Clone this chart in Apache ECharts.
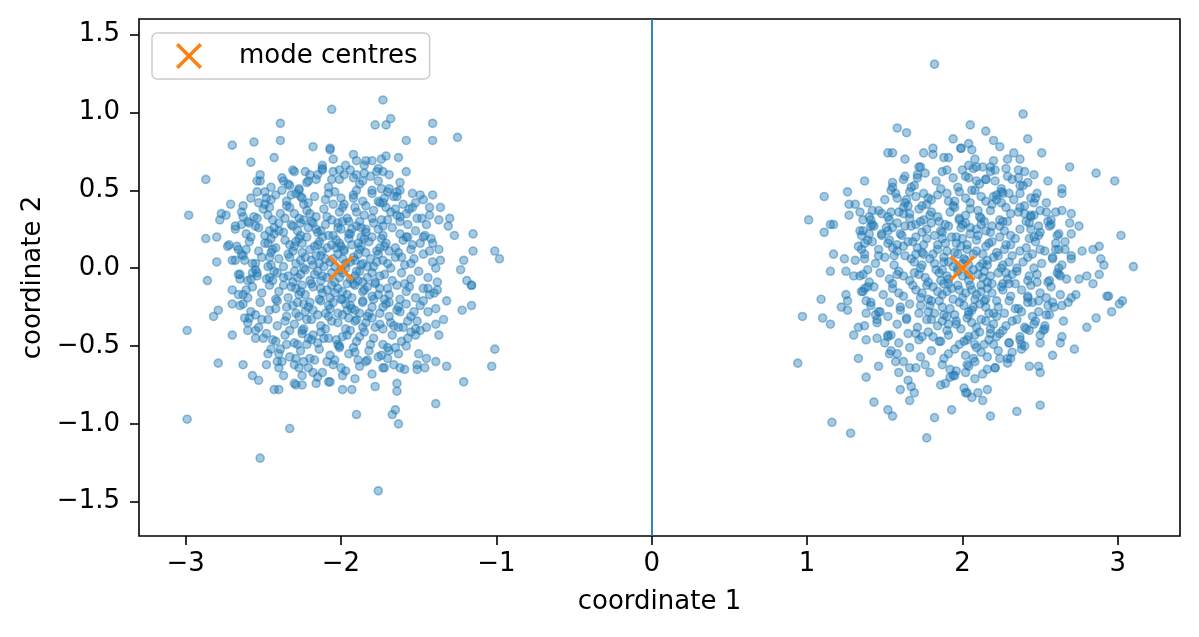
<!DOCTYPE html>
<html>
<head>
<meta charset="utf-8">
<title>mode centres</title>
<script src="https://cdn.jsdelivr.net/npm/echarts@6/dist/echarts.min.js"></script>
<style>
  html, body { margin: 0; padding: 0; background: #fff; }
  #chart { width: 1199px; height: 637px; }
</style>
</head>
<body>
<div id="chart"></div>
<script>
// samples around the left mode (outer points) and estimated (dense core)
const leftPoints = [
  [-2.06,1.02],[-2.39,0.93],[-2.39,0.82],[-2.70,0.79],[-2.56,0.81],[-2.58,0.68],[-2.43,0.71],[-2.18,0.78],[-2.07,0.76],[-2.05,0.70],
  [-2.87,0.57],[-2.98,0.34],[-2.71,0.41],[-2.77,0.35],[-2.78,0.31],[-2.74,0.34],[-2.87,0.19],[-2.80,0.20],[-2.80,0.04],[-2.86,-0.08],
  [-2.68,0.27],[-2.63,0.33],[-2.64,0.28],[-2.59,0.29],[-2.53,0.26],[-2.73,0.14],[-2.67,0.14],[-2.61,0.12],[-2.64,0.09],[-2.68,0.05],
  [-2.55,0.03],[-2.65,-0.04],[-2.65,-0.07],[-2.57,-0.03],[-2.55,-0.01],[-2.58,-0.07],[-2.54,0.56],[-2.52,0.56],[-2.49,0.49],[-2.54,0.49],
  [-2.31,0.63],[-2.23,0.62],[-2.12,0.63],[-2.12,0.64],[-2.37,0.56],[-2.33,0.53],[-2.27,0.51],[-2.32,0.47],[-2.26,0.46],[-2.21,0.56],
  [-2.16,0.57],[-2.06,0.57],[-2.46,0.39],[-2.48,0.45],[-2.53,0.42],[-2.46,0.24],[-2.49,0.16],[-2.46,0.07],[-2.47,0.01],[-2.46,-0.06],[-2.54,-0.05],
  [-1.73,1.08],[-1.78,0.92],[-1.71,0.92],[-1.68,0.96],[-1.41,0.93],[-1.41,0.82],[-1.25,0.84],[-1.58,0.82],[-1.63,0.71],[-1.92,0.73],
  [-1.90,0.69],[-1.84,0.69],[-1.80,0.69],[-1.74,0.70],[-1.71,0.72],[-1.76,0.64],[-1.73,0.62],[-2.07,0.77],[-2.01,0.63],[-1.98,0.60],
  [-1.92,0.58],[-1.85,0.61],[-1.86,0.56],[-1.69,0.51],[-1.64,0.49],[-1.64,0.46],[-1.72,0.45],[-1.80,0.50],[-1.49,0.47],[-1.47,0.44],
  [-1.41,0.47],[-1.54,0.39],[-1.58,0.35],[-1.65,0.38],[-1.43,0.39],[-1.36,0.39],[-1.43,0.34],[-1.48,0.32],[-1.37,0.31],[-1.30,0.32],
  [-1.31,0.27],[-1.27,0.21],[-1.15,0.22],[-1.15,0.11],[-1.01,0.11],[-0.98,0.06],[-1.21,0.05],[-1.23,-0.01],[-1.19,-0.08],[-1.16,-0.11],
  [-1.37,0.12],[-1.36,0.05],[-1.42,0.19],[-1.46,0.21],[-1.54,0.15],
  [-2.99,-0.40],[-2.99,-0.97],[-2.52,-1.22],[-2.33,-1.03],[-2.79,-0.61],[-2.63,-0.62],[-2.57,-0.69],[-2.53,-0.72],[-2.48,-0.62],[-2.43,-0.78],
  [-2.40,-0.78],[-2.41,-0.60],[-2.38,-0.60],[-2.40,-0.64],[-2.37,-0.69],[-2.30,-0.74],[-2.29,-0.75],[-2.25,-0.75],[-2.29,-0.58],[-2.24,-0.60],
  [-2.27,-0.64],[-2.25,-0.69],[-2.18,-0.67],[-2.16,-0.74],[-2.08,-0.73],[-2.70,-0.43],[-2.82,-0.31],[-2.79,-0.27],[-2.70,-0.23],[-2.63,-0.23],
  [-2.66,-0.17],[-2.61,-0.14],[-2.60,-0.40],[-2.55,-0.40],[-2.62,-0.32],[-2.59,-0.32],[-2.51,-0.33],[-2.45,-0.52],[-2.44,-0.46],[-2.35,-0.49],
  [-2.28,-0.49],[-2.21,-0.45],[-2.15,-0.48],[-2.09,-0.60],
  [-1.76,-1.43],[-1.90,-0.94],[-1.63,-1.00],[-1.65,-0.91],[-1.67,-0.94],[-1.39,-0.87],[-1.21,-0.73],[-1.03,-0.63],[-1.01,-0.52],[-1.16,-0.24],
  [-1.22,-0.27],[-1.16,-0.11],[-1.32,-0.21],[-1.39,-0.26],[-1.34,-0.33],[-1.37,-0.43],[-1.32,-0.63],[-1.39,-0.60],[-1.46,-0.64],[-1.51,-0.62],
  [-1.51,-0.65],[-1.59,-0.65],[-1.62,-0.64],[-1.66,-0.62],[-1.64,-0.74],[-1.64,-0.79],[-1.78,-0.76],[-1.83,-0.59],[-1.93,-0.78],[-1.99,-0.78],
  [-1.74,-0.56],[-1.72,-0.64],[-1.65,-0.51],[-1.69,-0.53],[-1.50,-0.55],[-1.45,-0.58],[-1.66,-0.37],[-1.60,-0.38],[-1.57,-0.45],[-1.52,-0.43],
  [-1.45,-0.38],[-1.39,-0.36],[-1.43,-0.17],[-1.38,-0.14],[-1.44,-0.13],[-1.63,-0.25],[-1.55,-0.31],[-1.51,-0.34],[-1.49,-0.24],[-2.01,-0.50],
  [-1.81,-0.49],[-1.91,-0.54],[-1.99,-0.69],[-2.07,-0.73],
  // dense core
  [-2.38,0.58],[-2.30,0.62],[-2.22,0.55],[-2.15,0.60],[-2.08,0.52],[-2.01,0.57],[-1.94,0.63],[-1.88,0.54],[-1.81,0.59],[-1.74,0.51],
  [-1.69,0.60],[-1.62,0.55],[-2.45,0.52],[-2.27,0.50],[-1.97,0.66],[-1.85,0.66],[-2.12,0.66],[-1.58,0.62],[-2.52,0.60],[-1.77,0.62],
  [-2.58,0.45],[-2.49,0.41],[-2.42,0.47],[-2.35,0.43],[-2.29,0.48],[-2.21,0.42],[-2.17,0.46],[-2.10,0.44],[-2.04,0.49],[-1.98,0.41],
  [-1.92,0.47],[-1.86,0.43],[-1.80,0.48],[-1.73,0.42],[-1.66,0.46],[-1.60,0.41],[-1.54,0.48],[-2.63,0.40],[-2.38,0.50],[-1.90,0.50],
  [-2.00,0.45],[-1.70,0.49],[-2.25,0.45],[-1.84,0.40],
  [-2.64,0.36],[-2.56,0.33],[-2.50,0.38],[-2.44,0.31],[-2.39,0.35],[-2.33,0.39],[-2.27,0.32],[-2.22,0.37],[-2.16,0.33],[-2.11,0.38],
  [-2.06,0.31],[-2.01,0.36],[-1.96,0.32],[-1.91,0.39],[-1.85,0.34],[-1.79,0.37],[-1.74,0.31],[-1.68,0.36],[-1.62,0.33],[-1.56,0.38],
  [-1.51,0.32],[-2.47,0.34],[-2.19,0.30],[-1.88,0.30],[-1.99,0.39],[-2.30,0.35],[-1.71,0.39],[-2.60,0.30],
  [-2.68,0.25],[-2.61,0.22],[-2.55,0.27],[-2.49,0.21],[-2.43,0.26],[-2.37,0.23],[-2.32,0.28],[-2.26,0.21],[-2.21,0.26],[-2.15,0.23],
  [-2.10,0.28],[-2.05,0.21],[-2.00,0.25],[-1.95,0.22],[-1.90,0.27],[-1.84,0.23],[-1.79,0.29],[-1.73,0.21],[-1.67,0.26],[-1.62,0.22],
  [-1.57,0.28],[-1.52,0.24],[-1.47,0.20],[-2.28,0.24],[-2.02,0.29],[-1.87,0.20],[-2.40,0.29],[-1.76,0.25],[-2.12,0.20],[-1.93,0.25],[-2.18,0.29],
  [-2.72,0.15],[-2.66,0.12],[-2.59,0.17],[-2.53,0.11],[-2.47,0.16],[-2.42,0.13],[-2.36,0.18],[-2.31,0.11],[-2.25,0.16],[-2.20,0.12],
  [-2.14,0.17],[-2.09,0.13],[-2.03,0.18],[-1.98,0.11],[-1.93,0.15],[-1.88,0.12],[-1.82,0.17],[-1.77,0.11],[-1.71,0.16],[-1.65,0.13],
  [-1.60,0.18],[-1.55,0.12],[-1.49,0.16],[-1.43,0.11],[-2.33,0.15],[-2.06,0.15],[-1.85,0.19],[-1.95,0.19],[-2.17,0.14],[-2.45,0.19],
  [-1.63,0.10],[-1.74,0.19],[-2.00,0.14],[-2.27,0.19],
  [-2.70,0.05],[-2.63,0.08],[-2.57,0.03],[-2.51,0.07],[-2.45,0.02],[-2.40,0.06],[-2.34,0.09],[-2.29,0.03],[-2.23,0.07],[-2.18,0.02],
  [-2.13,0.08],[-2.07,0.04],[-2.02,0.09],[-1.97,0.03],[-1.92,0.07],[-1.87,0.02],[-1.81,0.06],[-1.76,0.09],[-1.70,0.03],[-1.65,0.07],
  [-1.59,0.02],[-1.53,0.06],[-1.47,0.09],[-1.41,0.04],[-2.26,0.05],[-2.10,0.06],[-1.89,0.09],[-1.79,0.01],[-2.37,0.01],[-1.99,0.06],
  [-2.04,0.01],[-1.94,0.04],
  [-2.66,-0.04],[-2.60,-0.08],[-2.54,-0.03],[-2.48,-0.07],[-2.43,-0.02],[-2.37,-0.06],[-2.31,-0.09],[-2.26,-0.04],[-2.20,-0.08],[-2.15,-0.02],
  [-2.09,-0.06],[-2.04,-0.09],[-1.99,-0.03],[-1.94,-0.07],[-1.88,-0.02],[-1.83,-0.06],[-1.78,-0.09],[-1.72,-0.04],[-1.67,-0.08],[-1.61,-0.03],
  [-1.55,-0.07],[-1.50,-0.02],[-1.44,-0.06],[-1.38,-0.09],[-2.12,-0.05],[-1.91,-0.05],[-2.23,-0.01],[-1.80,-0.03],[-2.34,-0.05],[-1.96,-0.10],
  [-2.01,-0.06],[-1.86,-0.09],
  [-2.70,-0.14],[-2.63,-0.17],[-2.57,-0.12],[-2.51,-0.16],[-2.46,-0.11],[-2.40,-0.15],[-2.34,-0.19],[-2.29,-0.13],[-2.23,-0.17],[-2.18,-0.12],
  [-2.12,-0.16],[-2.07,-0.19],[-2.02,-0.13],[-1.96,-0.17],[-1.91,-0.11],[-1.86,-0.15],[-1.80,-0.18],[-1.75,-0.13],[-1.69,-0.17],[-1.64,-0.11],
  [-1.58,-0.15],[-1.52,-0.19],[-1.47,-0.13],[-2.25,-0.11],[-1.99,-0.20],[-1.83,-0.12],[-2.09,-0.14],[-1.93,-0.19],[-2.37,-0.11],[-1.72,-0.20],
  [-2.65,-0.24],[-2.58,-0.28],[-2.52,-0.22],[-2.46,-0.27],[-2.41,-0.21],[-2.35,-0.25],[-2.29,-0.29],[-2.24,-0.23],[-2.18,-0.27],[-2.13,-0.21],
  [-2.07,-0.26],[-2.02,-0.29],[-1.97,-0.23],[-1.91,-0.27],[-1.86,-0.21],[-1.80,-0.25],[-1.75,-0.29],[-1.69,-0.22],[-1.64,-0.27],[-1.58,-0.23],
  [-1.53,-0.28],[-1.47,-0.21],[-2.20,-0.22],[-2.05,-0.22],[-1.88,-0.29],[-1.94,-0.24],[-2.31,-0.24],[-1.73,-0.25],
  [-2.60,-0.35],[-2.53,-0.38],[-2.47,-0.33],[-2.41,-0.37],[-2.35,-0.31],[-2.30,-0.36],[-2.24,-0.39],[-2.19,-0.33],[-2.13,-0.37],[-2.08,-0.31],
  [-2.02,-0.35],[-1.97,-0.39],[-1.91,-0.34],[-1.86,-0.38],[-1.80,-0.32],[-1.75,-0.36],[-1.69,-0.31],[-1.63,-0.38],[-1.57,-0.34],[-1.52,-0.39],
  [-2.10,-0.39],[-1.95,-0.32],[-2.27,-0.31],[-1.84,-0.35],
  [-2.55,-0.45],[-2.48,-0.42],[-2.42,-0.47],[-2.36,-0.43],[-2.30,-0.48],[-2.25,-0.42],[-2.19,-0.46],[-2.13,-0.41],[-2.08,-0.45],[-2.02,-0.49],
  [-1.96,-0.43],[-1.90,-0.47],[-1.85,-0.41],[-1.79,-0.45],[-1.73,-0.49],[-1.67,-0.43],[-1.61,-0.47],[-1.55,-0.41],[-2.22,-0.49],[-1.99,-0.44],
  [-2.47,-0.55],[-2.39,-0.52],[-2.33,-0.57],[-2.26,-0.53],[-2.20,-0.58],[-2.14,-0.52],[-2.07,-0.56],[-2.01,-0.51],[-1.95,-0.55],[-1.89,-0.59],
  [-1.82,-0.53],[-1.76,-0.57],[-1.70,-0.51],[-1.63,-0.55],[-2.04,-0.59],[-1.92,-0.51],
  [-2.21,-0.64],[-2.12,-0.67],[-2.05,-0.62],[-1.97,-0.66],[-1.88,-0.63],[-1.80,-0.68],[-1.73,-0.64],[-2.15,-0.70],[-1.91,-0.71],
  [-2.31,0.27],[-2.24,0.31],[-2.16,0.25],[-2.09,0.33],[-2.02,0.26],[-1.95,0.30],[-1.87,0.26],[-1.80,0.32],[-1.73,0.27],
  [-2.29,0.17],[-2.22,0.20],[-2.15,0.15],[-2.08,0.21],[-2.01,0.16],[-1.94,0.22],[-1.87,0.14],[-1.80,0.20],[-1.72,0.14],
  [-2.33,0.07],[-2.25,0.10],[-2.19,0.05],[-2.12,0.11],[-2.05,0.06],[-1.98,0.12],[-1.91,0.05],[-1.84,0.10],[-1.77,0.04],[-1.69,0.11],
  [-2.30,-0.02],[-2.24,0.00],[-2.17,-0.04],[-2.11,0.01],[-2.06,-0.03],[-1.97,0.00],[-1.90,-0.02],[-1.83,0.01],[-1.75,-0.05],[-1.68,0.00],
  [-2.32,-0.12],[-2.26,-0.15],[-2.19,-0.10],[-2.13,-0.13],[-2.06,-0.11],[-1.99,-0.15],[-1.92,-0.10],[-1.85,-0.14],[-1.78,-0.10],[-1.70,-0.13],
  [-2.28,-0.22],[-2.21,-0.25],[-2.14,-0.20],[-2.08,-0.24],[-2.00,-0.20],[-1.93,-0.26],[-1.86,-0.22],[-1.79,-0.20],[-1.71,-0.23],
  [-2.22,-0.33],[-2.15,-0.30],[-2.06,-0.34],[-1.99,-0.30],[-1.90,-0.33],[-1.82,-0.29],
  [-2.58,0.20],[-2.62,0.05],[-2.60,-0.19],[-2.55,-0.30],[-2.50,-0.45],[-2.40,-0.55],[-2.30,-0.62],[-2.17,-0.59],[-2.00,-0.64],[-1.84,-0.60],
  [-1.70,-0.58],[-1.58,-0.50],[-1.49,-0.40],[-1.44,-0.28],[-1.40,-0.16],[-1.39,0.00],[-1.41,0.16],[-1.45,0.28],[-1.52,0.42],[-1.62,0.50],
  [-1.76,0.56],[-1.90,0.60],[-2.05,0.62],[-2.20,0.60],[-2.34,0.54],[-2.45,0.44],[-2.54,0.32],
  [-2.45,0.10],[-2.44,-0.08],[-2.42,-0.26],[-2.33,-0.40],[-2.18,-0.43],[-2.03,-0.46],[-1.88,-0.44],[-1.73,-0.39],[-1.62,-0.28],[-1.56,-0.12],
  [-1.55,0.03],[-1.57,0.20],[-1.64,0.34],[-1.76,0.43],[-1.92,0.45],[-2.08,0.48],[-2.24,0.41],[-2.36,0.32],[-2.43,0.22],
  [-2.35,0.40],[-2.20,0.35],[-2.05,0.41],[-1.90,0.36],[-1.75,0.42],[-1.62,0.30],
  [-2.40,0.24],[-2.26,0.29],[-2.13,0.24],[-1.99,0.30],[-1.84,0.25],[-1.70,0.31],[-1.58,0.20],
  [-2.44,0.12],[-2.30,0.14],[-2.16,0.08],[-2.03,0.13],[-1.89,0.16],[-1.75,0.13],[-1.61,0.07],
  [-2.41,-0.03],[-2.28,-0.06],[-2.14,0.03],[-2.00,-0.01],[-1.86,0.03],[-1.73,0.05],[-1.59,-0.10],
  [-2.42,-0.20],[-2.27,-0.17],[-2.13,-0.08],[-2.04,-0.16],[-1.89,-0.08],[-1.76,-0.17],[-1.62,-0.20],
  [-2.36,-0.34],[-2.23,-0.28],[-2.10,-0.29],[-1.96,-0.27],[-1.83,-0.31],[-1.68,-0.35],
  [-2.25,-0.40],[-2.11,-0.45],[-1.94,-0.40],[-1.78,-0.38]
];

// samples around the right mode
const rightPoints = [
  [1.82,1.31],[1.58,0.90],[1.64,0.87],[1.94,0.83],[1.99,0.77],[1.52,0.74],[1.55,0.74],[1.63,0.70],[1.75,0.74],[1.81,0.77],
  [1.81,0.73],[1.88,0.71],[1.91,0.71],[1.37,0.56],[1.11,0.46],[1.26,0.49],[1.01,0.31],[1.11,0.23],[1.15,0.28],[1.17,0.28],
  [1.17,0.09],[1.24,0.06],[1.27,0.41],[1.31,0.41],[1.27,0.34],[1.39,0.42],[1.42,0.37],[1.34,0.36],[1.36,0.31],[1.41,0.31],
  [1.41,0.27],[1.34,0.24],[1.35,0.21],[1.43,0.27],[1.37,0.16],[1.42,0.17],[1.35,0.12],[1.46,0.08],[1.55,0.55],[1.54,0.50],
  [1.63,0.59],[1.67,0.52],[1.71,0.60],[1.72,0.65],[1.75,0.48],[1.78,0.45],[1.54,0.36],[1.52,0.33],[1.52,0.24],[1.51,0.26],
  [1.53,0.18],[1.48,0.21],[1.62,0.35],[1.66,0.35],[1.64,0.44],
  [2.39,0.99],[2.05,0.92],[2.15,0.88],[2.42,0.83],[2.20,0.82],[2.24,0.78],[2.51,0.74],[1.99,0.77],[2.04,0.80],[2.06,0.76],
  [2.08,0.70],[2.09,0.65],[2.13,0.65],[2.18,0.65],[2.20,0.69],[2.29,0.70],[2.33,0.74],[2.37,0.70],[2.36,0.63],[2.40,0.62],
  [2.29,0.59],[2.69,0.65],[2.86,0.61],[2.98,0.56],[2.55,0.56],[2.64,0.51],[2.64,0.48],[2.42,0.55],[2.37,0.53],[2.44,0.45],
  [2.46,0.42],[2.00,0.63],[2.02,0.59],[2.09,0.56],[2.15,0.57],[2.21,0.56],[2.08,0.50],[2.15,0.43],[2.20,0.46],[2.25,0.49],
  [2.30,0.48],[2.54,0.36],[2.60,0.36],[2.64,0.37],[2.70,0.35],[2.69,0.29],[2.75,0.27],[2.57,0.28],[2.61,0.21],[2.70,0.22],
  [3.02,0.21],[2.88,0.14],[2.84,0.12],[2.77,0.11],[2.70,0.08],[2.89,0.06],[2.91,0.02],[3.10,0.01],[2.58,0.06],[2.62,0.12],
  [2.66,0.17],[2.50,0.12],[2.49,0.27],[2.49,0.21],[2.44,0.34],[2.46,0.34],
  [0.94,-0.61],[0.97,-0.31],[1.09,-0.20],[1.10,-0.32],[1.15,-0.36],[1.16,-0.99],[1.28,-1.06],[1.15,-0.02],[1.25,-0.02],[1.30,-0.05],
  [1.36,-0.04],[1.39,-0.01],[1.25,-0.17],[1.26,-0.21],[1.22,-0.25],[1.26,-0.27],[1.35,-0.15],[1.37,-0.13],[1.38,-0.21],[1.41,-0.22],
  [1.38,-0.29],[1.46,-0.28],[1.30,-0.43],[1.33,-0.38],[1.37,-0.37],[1.38,-0.46],[1.45,-0.45],[1.45,-0.33],[1.52,-0.43],[1.54,-0.43],
  [1.33,-0.58],[1.38,-0.70],[1.43,-0.86],[1.46,-0.63],[1.52,-0.91],[1.55,-0.95],[1.53,-0.55],[1.54,-0.53],[1.57,-0.60],[1.59,-0.67],
  [1.60,-0.78],[1.65,-0.72],[1.67,-0.76],[1.69,-0.80],[1.66,-0.85],[1.66,-0.64],[1.77,-1.09],[1.82,-0.96],[1.93,-0.91],[1.86,-0.75],
  [1.89,-0.74],[1.94,-0.69],[1.95,-0.69],[2.01,-0.77],[2.03,-0.80],
  [2.18,-0.95],[2.35,-0.92],[2.50,-0.88],[2.13,-0.85],[2.16,-0.78],[2.10,-0.80],[2.06,-0.83],[2.02,-0.80],[2.43,-0.63],[2.49,-0.63],
  [2.50,-0.67],[2.58,-0.56],[2.72,-0.52],[2.29,-0.58],[2.21,-0.64],[2.16,-0.65],[2.02,-0.67],[2.03,-0.62],[2.88,-0.04],[2.84,-0.10],
  [2.80,-0.05],[2.75,-0.07],[2.94,-0.18],[2.93,-0.18],[3.03,-0.21],[3.01,-0.23],[2.96,-0.28],[2.86,-0.32],[2.80,-0.38],[2.73,-0.17],
  [2.70,-0.19],[2.68,-0.22],[2.64,-0.24],[2.59,-0.25],[2.56,-0.30],[2.65,-0.34],[2.64,-0.44],[2.63,-0.48],[2.53,-0.37],[2.53,-0.39],
  [2.50,-0.43],[2.50,-0.48],[2.54,-0.19],[2.49,-0.21],[2.42,-0.19],[2.56,-0.08],[2.48,-0.09],[2.62,0.00],[2.62,-0.04],[2.45,-0.31],
  [2.46,-0.36],[2.38,-0.28],[2.40,-0.38],[2.38,-0.49],[2.32,-0.54],[2.30,-0.48],[2.37,-0.46],[2.22,-0.44],[2.14,-0.49],[2.08,-0.49],
  [2.07,-0.58],
  // dense core
  [1.62,0.57],[1.69,0.53],[1.76,0.61],[1.83,0.56],[1.90,0.63],[1.97,0.52],[2.04,0.58],[2.11,0.54],[2.18,0.62],[2.25,0.51],
  [2.32,0.57],[2.39,0.53],[2.46,0.60],[1.55,0.52],[1.73,0.65],[1.94,0.58],[2.15,0.57],[2.28,0.64],[2.07,0.64],[1.86,0.51],
  [1.50,0.44],[1.57,0.48],[1.63,0.42],[1.70,0.46],[1.77,0.41],[1.84,0.47],[1.91,0.43],[1.98,0.49],[2.05,0.42],[2.12,0.46],
  [2.19,0.41],[2.26,0.48],[2.33,0.44],[2.40,0.40],[2.47,0.45],[2.54,0.42],[1.80,0.44],[2.02,0.45],[2.22,0.44],[1.66,0.49],
  [2.37,0.48],[1.94,0.40],
  [1.40,0.33],[1.46,0.37],[1.53,0.31],[1.59,0.36],[1.66,0.32],[1.72,0.38],[1.79,0.34],[1.85,0.30],[1.92,0.36],[1.98,0.32],
  [2.05,0.38],[2.11,0.33],[2.18,0.37],[2.24,0.31],[2.31,0.35],[2.37,0.39],[2.44,0.33],[2.50,0.37],[2.57,0.31],[1.75,0.31],
  [1.95,0.39],[2.14,0.30],[2.28,0.39],[2.02,0.34],[1.62,0.39],[2.41,0.30],
  [1.36,0.24],[1.42,0.28],[1.48,0.22],[1.55,0.26],[1.61,0.21],[1.67,0.27],[1.74,0.23],[1.80,0.29],[1.86,0.24],[1.93,0.20],
  [1.99,0.26],[2.05,0.22],[2.12,0.28],[2.18,0.23],[2.24,0.27],[2.31,0.21],[2.37,0.25],[2.43,0.29],[2.50,0.23],[2.56,0.27],
  [2.62,0.22],[1.70,0.20],[1.89,0.28],[2.09,0.25],[2.27,0.24],[2.02,0.29],[1.58,0.29],[2.46,0.20],
  [1.33,0.14],[1.39,0.18],[1.46,0.12],[1.52,0.16],[1.58,0.11],[1.65,0.17],[1.71,0.13],[1.77,0.19],[1.84,0.15],[1.90,0.11],
  [1.96,0.16],[2.03,0.12],[2.09,0.18],[2.15,0.14],[2.22,0.10],[2.28,0.15],[2.34,0.19],[2.41,0.13],[2.47,0.17],[2.53,0.11],
  [2.60,0.16],[2.66,0.12],[1.87,0.19],[2.00,0.19],[2.19,0.17],[1.74,0.10],[2.37,0.11],[1.62,0.14],
  [1.31,0.05],[1.37,0.09],[1.44,0.03],[1.50,0.07],[1.56,0.02],[1.63,0.08],[1.69,0.04],[1.75,0.09],[1.82,0.03],[1.88,0.07],
  [1.94,0.01],[2.01,0.06],[2.07,0.09],[2.13,0.03],[2.20,0.07],[2.26,0.02],[2.32,0.08],[2.39,0.04],[2.45,0.09],[2.51,0.03],
  [2.58,0.07],[2.64,0.02],[2.70,0.06],[1.79,0.06],[1.97,0.09],[2.16,0.05],[2.35,0.00],[1.91,0.04],[2.04,0.02],
  [1.34,-0.05],[1.40,-0.09],[1.47,-0.03],[1.53,-0.07],[1.59,-0.02],[1.66,-0.08],[1.72,-0.04],[1.78,-0.09],[1.85,-0.03],[1.91,-0.07],
  [1.97,-0.02],[2.04,-0.08],[2.10,-0.04],[2.16,-0.09],[2.23,-0.03],[2.29,-0.07],[2.35,-0.02],[2.42,-0.08],[2.48,-0.04],[2.55,-0.09],
  [2.61,-0.03],[2.67,-0.07],[1.88,-0.10],[2.07,-0.01],[2.26,-0.10],[1.62,-0.05],[2.00,-0.05],[2.13,-0.06],
  [1.36,-0.15],[1.43,-0.12],[1.49,-0.17],[1.55,-0.13],[1.62,-0.18],[1.68,-0.11],[1.74,-0.16],[1.81,-0.12],[1.87,-0.17],[1.93,-0.13],
  [2.00,-0.19],[2.06,-0.14],[2.12,-0.11],[2.19,-0.16],[2.25,-0.12],[2.31,-0.18],[2.38,-0.14],[2.44,-0.11],[2.50,-0.16],[2.57,-0.12],
  [2.63,-0.17],[1.97,-0.11],[2.15,-0.20],[1.78,-0.20],[2.34,-0.10],[2.09,-0.17],[1.90,-0.15],
  [1.41,-0.24],[1.47,-0.28],[1.53,-0.22],[1.60,-0.27],[1.66,-0.23],[1.72,-0.29],[1.79,-0.24],[1.85,-0.21],[1.92,-0.26],[1.98,-0.22],
  [2.04,-0.28],[2.11,-0.23],[2.17,-0.29],[2.23,-0.25],[2.30,-0.21],[2.36,-0.26],[2.42,-0.22],[2.49,-0.28],[2.55,-0.24],[1.95,-0.30],
  [2.14,-0.21],[1.82,-0.29],[2.27,-0.29],[2.07,-0.25],
  [1.45,-0.35],[1.52,-0.31],[1.58,-0.36],[1.64,-0.32],[1.71,-0.38],[1.77,-0.33],[1.84,-0.37],[1.90,-0.31],[1.96,-0.36],[2.03,-0.32],
  [2.09,-0.38],[2.15,-0.34],[2.22,-0.31],[2.28,-0.37],[2.35,-0.33],[2.41,-0.39],[2.47,-0.34],[2.54,-0.30],[1.99,-0.39],[2.18,-0.39],
  [1.87,-0.34],[2.06,-0.35],
  [1.52,-0.44],[1.59,-0.48],[1.65,-0.42],[1.72,-0.46],[1.78,-0.41],[1.85,-0.47],[1.91,-0.43],[1.98,-0.49],[2.04,-0.44],[2.11,-0.41],
  [2.17,-0.46],[2.24,-0.42],[2.30,-0.48],[2.37,-0.44],[2.43,-0.40],[2.01,-0.47],[1.81,-0.44],[2.20,-0.49],
  [1.58,-0.55],[1.66,-0.51],[1.73,-0.57],[1.80,-0.53],[1.88,-0.58],[1.95,-0.52],[2.02,-0.56],[2.09,-0.51],[2.16,-0.57],[2.23,-0.53],
  [2.31,-0.58],[2.38,-0.52],[1.91,-0.55],[2.12,-0.54],
  [1.70,-0.64],[1.79,-0.67],[1.87,-0.62],[1.96,-0.66],[2.04,-0.63],[2.13,-0.68],[2.21,-0.64],[2.29,-0.61],[1.92,-0.70],[2.08,-0.71],
  [1.70,0.28],[1.77,0.25],[1.84,0.33],[1.91,0.27],[1.98,0.31],[2.05,0.26],[2.12,0.32],[2.19,0.27],[2.26,0.30],
  [1.68,0.17],[1.75,0.15],[1.82,0.21],[1.89,0.16],[1.96,0.20],[2.03,0.15],[2.10,0.21],[2.17,0.16],[2.24,0.20],[2.31,0.15],
  [1.67,0.06],[1.74,0.02],[1.81,0.09],[1.88,0.04],[1.95,0.10],[2.02,0.05],[2.09,0.11],[2.16,0.02],[2.23,0.08],[2.30,0.04],
  [1.69,-0.03],[1.76,-0.06],[1.83,-0.01],[1.90,-0.05],[1.97,0.00],[2.04,-0.04],[2.11,0.01],[2.18,-0.05],[2.25,0.00],[2.32,-0.04],
  [1.70,-0.14],[1.77,-0.11],[1.84,-0.15],[1.91,-0.10],[1.98,-0.14],[2.05,-0.11],[2.12,-0.15],[2.19,-0.10],[2.26,-0.14],
  [1.73,-0.24],[1.80,-0.21],[1.87,-0.25],[1.94,-0.20],[2.01,-0.24],[2.08,-0.20],[2.15,-0.25],[2.22,-0.21],
  [1.80,-0.33],[1.88,-0.30],[1.96,-0.34],[2.04,-0.30],[2.12,-0.33],[2.20,-0.29],
  [1.40,0.22],[1.37,0.06],[1.39,-0.12],[1.44,-0.30],[1.50,-0.48],[1.62,-0.60],[1.76,-0.62],[1.92,-0.65],[2.08,-0.60],[2.24,-0.58],
  [2.40,-0.50],[2.52,-0.40],[2.58,-0.22],[2.63,-0.05],[2.60,0.12],[2.55,0.30],[2.48,0.48],[2.36,0.58],[2.21,0.63],[2.04,0.66],
  [1.87,0.62],[1.71,0.58],[1.58,0.45],[1.48,0.35],
  [1.56,0.08],[1.55,-0.10],[1.60,-0.25],[1.70,-0.42],[1.86,-0.47],[2.03,-0.46],[2.18,-0.42],[2.32,-0.34],[2.42,-0.18],[2.46,0.00],
  [2.43,0.19],[2.36,0.36],[2.22,0.47],[2.06,0.50],[1.90,0.48],[1.74,0.40],[1.63,0.27],[1.58,0.15],
  [1.65,0.40],[1.80,0.36],[1.95,0.43],[2.10,0.37],[2.25,0.42],[2.40,0.35],
  [1.60,0.22],[1.73,0.30],[1.87,0.23],[2.00,0.28],[2.15,0.24],[2.29,0.30],[2.44,0.25],
  [1.55,0.13],[1.70,0.09],[1.84,0.12],[1.99,0.14],[2.13,0.09],[2.27,0.12],[2.42,0.07],
  [1.58,-0.04],[1.73,0.00],[1.87,-0.01],[2.00,0.03],[2.14,-0.02],[2.28,-0.03],[2.43,-0.05],
  [1.59,-0.16],[1.73,-0.19],[1.86,-0.08],[2.02,-0.16],[2.16,-0.13],[2.30,-0.10],[2.45,-0.22],
  [1.64,-0.33],[1.78,-0.28],[1.91,-0.36],[2.06,-0.27],[2.20,-0.36],[2.34,-0.26],
  [1.74,-0.44],[1.90,-0.40],[2.08,-0.43],[2.26,-0.40]
];

const modeCentres = [[-2, 0], [2, 0]];
const boundaryX = 0;

const xTicks = [-3, -2, -1, 0, 1, 2, 3];
const xTickLabels = ['\u22123', '\u22122', '\u22121', '0', '1', '2', '3'];
const yTicks = [-1.5, -1.0, -0.5, 0.0, 0.5, 1.0, 1.5];
const yTickLabels = ['\u22121.5', '\u22121.0', '\u22120.5', '0.0', '0.5', '1.0', '1.5'];

const xRange = [-3.30, 3.40];
const yRange = [-1.72, 1.60];

const xName = 'coordinate 1';
const yName = 'coordinate 2';
const legendName = 'mode centres';

(function () {
  const FONT = 'DejaVu Sans';
  const BLUE = '#1f77b4';
  const ORANGE = '#ff7f0e';
  // filled "x" shape, like matplotlib's 'x' marker
  const CROSS = 'path://M0,2.6L2.6,0L14,11.4L25.4,0L28,2.6L16.6,14L28,25.4L25.4,28L14,16.6L2.6,28L0,25.4L11.4,14Z';

  function labelFor(ticks, labels) {
    return function (value) {
      const i = ticks.findIndex((t) => Math.abs(t - value) < 1e-9);
      return i >= 0 ? labels[i] : '';
    };
  }

  const chart = echarts.init(document.getElementById('chart'), null, { renderer: 'canvas' });

  chart.setOption({
    animation: false,
    backgroundColor: '#ffffff',
    textStyle: { fontFamily: FONT },
    grid: {
      left: 139,
      right: 19,
      top: 19,
      bottom: 101,
      show: true,
      borderColor: '#000000',
      borderWidth: 1.6,
      backgroundColor: 'transparent',
      outerBoundsMode: 'none'
    },
    legend: {
      data: [legendName],
      left: 152,
      top: 33,
      orient: 'vertical',
      icon: CROSS,
      itemWidth: 26,
      itemHeight: 26,
      padding: [10, 12, 10, 24],
      backgroundColor: 'rgba(255,255,255,0.8)',
      borderColor: '#cccccc',
      borderWidth: 1.5,
      borderRadius: 5,
      itemStyle: { color: ORANGE, borderWidth: 0, opacity: 1 },
      textStyle: {
        fontFamily: FONT,
        fontSize: 26,
        color: '#000000',
        padding: [0, 0, 0, 32]
      },
      selectedMode: false
    },
    xAxis: {
      type: 'value',
      min: xRange[0],
      max: xRange[1],
      name: xName,
      nameLocation: 'middle',
      nameGap: 53,
      nameTextStyle: { fontFamily: FONT, fontSize: 26, color: '#000000' },
      axisLine: { show: false, onZero: false },
      splitLine: { show: false },
      axisTick: {
        show: true,
        inside: false,
        length: 9,
        customValues: xTicks,
        lineStyle: { color: '#000000', width: 1.6 }
      },
      axisLabel: {
        show: true,
        margin: 15,
        customValues: xTicks,
        formatter: labelFor(xTicks, xTickLabels),
        fontFamily: FONT,
        fontSize: 26,
        color: '#000000'
      }
    },
    yAxis: {
      type: 'value',
      min: yRange[0],
      max: yRange[1],
      name: yName,
      nameLocation: 'middle',
      nameGap: 90,
      nameRotate: 90,
      nameTextStyle: { fontFamily: FONT, fontSize: 26, color: '#000000' },
      axisLine: { show: false, onZero: false },
      splitLine: { show: false },
      axisTick: {
        show: true,
        inside: false,
        length: 9,
        customValues: yTicks,
        lineStyle: { color: '#000000', width: 1.6 }
      },
      axisLabel: {
        show: true,
        margin: 19,
        customValues: yTicks,
        formatter: labelFor(yTicks, yTickLabels),
        fontFamily: FONT,
        fontSize: 26,
        color: '#000000'
      }
    },
    series: [
      {
        name: 'samples',
        type: 'scatter',
        data: leftPoints.concat(rightPoints),
        symbol: 'circle',
        symbolSize: 8,
        itemStyle: {
          color: 'rgba(31,119,180,0.4)',
          borderColor: 'rgba(31,119,180,0.45)',
          borderWidth: 1.6,
          opacity: 1
        },
        emphasis: { disabled: true },
        silent: true,
        z: 2,
        markLine: {
          silent: true,
          symbol: ['none', 'none'],
          label: { show: false },
          lineStyle: { color: BLUE, width: 1.8, type: 'solid', opacity: 1 },
          data: [{ xAxis: boundaryX }]
        }
      },
      {
        name: legendName,
        type: 'scatter',
        data: modeCentres,
        symbol: CROSS,
        symbolSize: 26,
        itemStyle: { color: ORANGE, opacity: 1 },
        emphasis: { disabled: true },
        silent: true,
        z: 5
      }
    ]
  });

  window.addEventListener('resize', () => chart.resize());
})();
</script>
</body>
</html>
